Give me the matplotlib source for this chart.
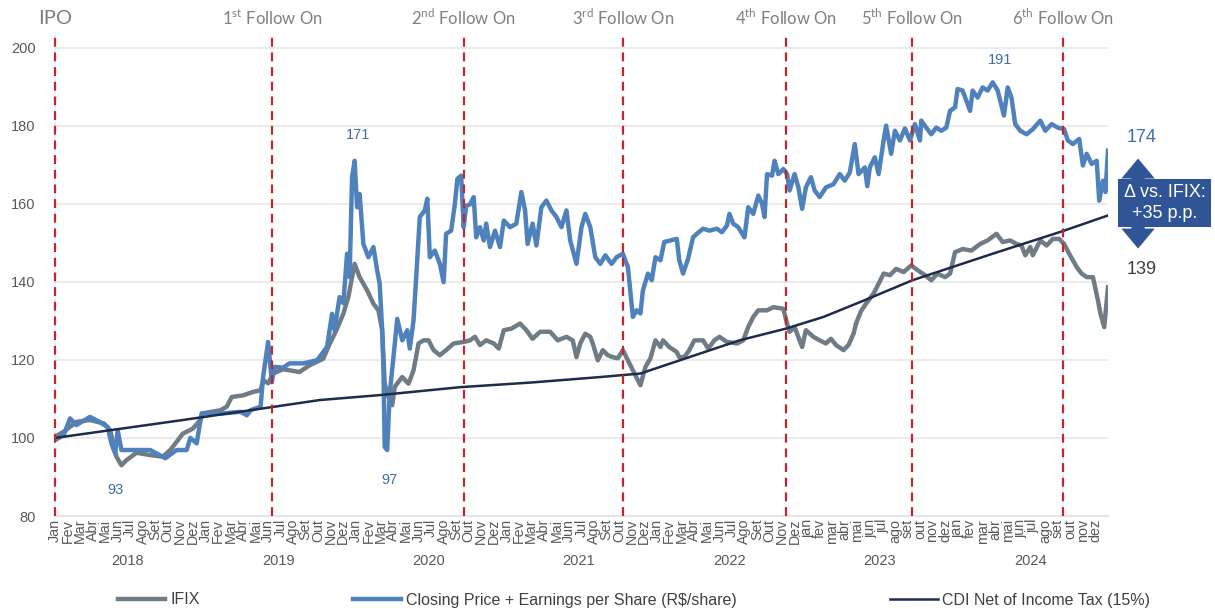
import numpy as np
import matplotlib
matplotlib.use("Agg")
import matplotlib.pyplot as plt
from matplotlib.lines import Line2D
import matplotlib.transforms as mtransforms

# months since Jan 2018 (0 = start of Jan 2018, 84 = end of Dec 2024)
price_m = [0, 0.7, 1.2, 1.7, 2.8, 3.6, 4.2, 4.5, 4.8, 5.0, 5.3, 6.2, 7.6, 8.8, 9.7, 10.5, 10.8, 11.3, 11.7,
           13.4, 14.8, 15.3, 15.6, 16.4, 16.6, 17.0, 17.3, 17.5, 18.2, 18.7, 19.8, 20.9, 21.1, 21.7, 22.1,
           22.3, 22.7, 23.0, 23.3, 23.5, 23.7, 23.9, 24.1, 24.3, 24.6, 25.0, 25.4, 25.7, 25.9, 26.1, 26.2,
           26.3, 26.5, 26.7, 27.0, 27.3, 27.7, 28.1, 28.3, 28.6, 28.8, 29.1, 29.5, 29.7, 29.9, 30.3, 30.7,
           31.0, 31.2, 31.6, 31.9, 32.1, 32.4, 32.6, 32.8, 33.1, 33.4, 33.6, 33.9, 34.2, 34.4, 34.7, 35.1,
           35.5, 35.8, 36.3, 36.8, 37.2, 37.5, 37.7, 38.1, 38.4, 38.8, 39.2, 39.6, 40.0, 40.4, 40.8, 41.1,
           41.6, 42.0, 42.3, 42.7, 43.1, 43.5, 43.9, 44.4, 44.8, 45.3, 45.7, 46.1, 46.4, 46.7, 46.9, 47.3,
           47.6, 47.9, 48.3, 48.6, 49.6, 49.8, 50.1, 50.5, 50.9, 51.2, 51.7, 52.2, 52.8, 53.2, 53.6, 53.8,
           54.1, 54.5, 55.0, 55.3, 55.7, 56.1, 56.4, 56.6, 56.8, 57.2, 57.4, 57.7, 58.1, 58.4, 58.6, 59.0,
           59.3, 59.6, 59.9, 60.3, 60.6, 61.0, 61.5, 62.1, 62.6, 63.0, 63.4, 63.8, 64.1, 64.6, 64.8, 65.0,
           65.4, 65.7, 66.1, 66.3, 66.7, 67.0, 67.4, 67.8, 68.2, 68.6, 69.0, 69.1, 69.5, 69.9, 70.3, 70.7,
           71.1, 71.4, 71.8, 72.0, 72.4, 72.7, 73.0, 73.2, 73.6, 74.0, 74.4, 74.8, 75.2, 75.7, 76.0, 76.3,
           76.6, 77.0, 77.5, 78.0, 78.6, 79.0, 79.5, 80.0, 80.5, 80.8, 81.2, 81.7, 82.0, 82.3, 82.7, 83.1,
           83.3, 83.6, 83.8, 84.0]
price_v = [99.4, 100.8, 105.0, 103.3, 105.4, 104.0, 102.8, 98.6, 96.0, 102.0, 96.9, 96.9, 96.9, 94.8, 96.9,
           96.9, 100.0, 98.6, 106.3, 106.3, 106.7, 105.8, 107.1, 108.0, 115.6, 124.6, 114.3, 118.2, 118.0,
           119.1, 119.1, 119.9, 120.7, 123.3, 131.8, 127.6, 136.1, 134.5, 147.2, 141.2, 166.8, 171.0, 159.1,
           162.5, 149.7, 146.3, 148.9, 142.9, 139.5, 127.6, 118.2, 97.7, 96.9, 111.4, 120.7, 130.5, 125.0,
           127.6, 122.9, 130.1, 140.4, 156.6, 158.3, 161.3, 146.3, 148.0, 144.6, 139.9, 152.3, 153.1, 160.0,
           166.4, 167.2, 154.0, 159.5, 159.8, 161.7, 151.4, 154.0, 150.6, 154.9, 148.9, 153.1, 148.9, 155.7,
           154.0, 154.9, 163.0, 158.3, 149.7, 154.9, 149.3, 159.1, 160.8, 158.3, 156.6, 154.0, 158.3, 150.6,
           144.6, 154.0, 157.4, 154.0, 146.3, 144.6, 146.8, 144.6, 146.3, 147.2, 143.8, 131.0, 132.7, 131.9,
           137.8, 142.1, 140.4, 146.3, 145.5, 150.2, 151.0, 145.5, 142.1, 145.9, 151.4, 152.3, 153.6, 153.1,
           153.6, 152.7, 154.4, 157.4, 154.9, 154.0, 151.4, 159.1, 157.4, 162.1, 160.0, 156.6, 167.6, 167.2,
           171.0, 167.6, 168.9, 167.6, 163.4, 167.6, 164.2, 158.7, 164.2, 166.8, 163.4, 161.7, 164.2, 165.0,
           167.6, 165.9, 168.0, 175.3, 167.6, 169.3, 164.5, 169.3, 171.9, 167.6, 176.2, 180.0, 172.8, 178.7,
           176.2, 179.3, 176.2, 180.4, 176.2, 181.3, 179.5, 177.8, 179.5, 178.7, 179.5, 183.8, 184.7, 189.4,
           189.0, 186.4, 183.8, 189.0, 187.2, 189.8, 189.0, 191.1, 189.0, 182.6, 189.8, 187.2, 180.4, 178.7,
           177.8, 179.1, 181.3, 178.7, 180.4, 179.5, 179.1, 176.2, 175.3, 176.6, 169.8, 172.8, 170.2, 171.0,
           160.8, 165.9, 163.0, 173.6]

ifix_m = [0, 0.7, 1.7, 2.8, 3.9, 4.4, 4.9, 5.3, 5.7, 6.5, 7.6, 8.6, 9.2, 9.7, 10.2, 11.0, 11.6, 11.8, 13.2,
          13.7, 14.1, 15.0, 15.8, 16.4, 16.6, 17.0, 17.4, 18.2, 19.5, 20.3, 21.4, 21.9, 22.5, 23.0, 23.4,
          23.7, 23.9, 24.3, 24.9, 25.4, 25.8, 26.1, 26.3, 26.6, 26.9, 27.1, 27.7, 28.2, 28.6, 29.0, 29.4,
          29.8, 30.2, 30.7, 31.2, 31.8, 32.6, 33.1, 33.5, 33.9, 34.4, 35.0, 35.4, 35.8, 36.4, 37.1, 37.6,
          38.1, 38.7, 39.5, 40.1, 40.8, 41.3, 41.6, 41.9, 42.3, 42.7, 42.9, 43.3, 43.7, 44.1, 44.5, 44.9,
          45.3, 45.7, 46.1, 46.7, 47.1, 47.5, 47.9, 48.3, 48.5, 49.0, 49.6, 49.8, 50.2, 50.6, 51.0, 51.7,
          52.1, 52.6, 53.0, 53.6, 54.4, 54.9, 55.3, 55.7, 56.1, 56.8, 57.3, 58.1, 58.4, 58.6, 59.0, 59.6,
          59.9, 60.5, 61.0, 61.5, 61.9, 62.3, 62.9, 63.3, 63.7, 63.9, 64.3, 64.7, 65.3, 65.7, 66.1, 66.6,
          67.1, 67.7, 68.3, 68.8, 69.4, 69.9, 70.4, 71.0, 71.4, 71.8, 72.4, 73.1, 73.8, 74.4, 75.1, 75.6,
          76.2, 76.7, 77.1, 77.4, 77.8, 78.0, 78.6, 79.1, 79.6, 80.1, 80.5, 80.9, 81.5, 81.9, 82.3, 82.8,
          83.2, 83.4, 83.7, 84.0]
ifix_v = [100.3, 101.6, 104.1, 104.6, 103.7, 102.0, 95.2, 93.0, 94.3, 96.2, 95.6, 95.2, 96.9, 99.0, 101.1,
          102.4, 104.6, 106.3, 107.1, 108.0, 110.5, 110.9, 111.8, 112.2, 114.8, 114.0, 116.5, 117.6, 116.9,
          118.6, 120.3, 124.0, 128.0, 131.8, 136.1, 141.2, 144.6, 141.2, 137.8, 134.4, 132.7, 127.6, 113.9,
          110.5, 108.4, 113.1, 115.6, 113.9, 117.3, 124.2, 125.0, 125.0, 122.5, 121.2, 122.5, 124.2, 124.6,
          125.0, 125.9, 123.8, 125.0, 124.2, 122.9, 127.6, 128.0, 129.3, 127.6, 125.4, 127.2, 127.2, 125.0,
          125.9, 125.0, 120.7, 124.2, 126.7, 125.9, 124.2, 119.9, 122.5, 121.2, 120.7, 120.4, 122.5, 119.9,
          117.3, 113.5, 118.2, 120.4, 125.0, 123.3, 125.0, 123.3, 122.0, 120.7, 120.7, 122.5, 125.0, 125.0,
          122.9, 125.0, 125.9, 124.6, 124.2, 125.0, 128.4, 131.0, 132.7, 132.7, 133.5, 133.1, 129.3, 127.2,
          128.4, 123.3, 127.6, 125.9, 125.0, 124.2, 125.4, 123.8, 122.5, 123.8, 126.7, 129.3, 132.5, 134.4,
          137.0, 139.5, 142.1, 141.7, 143.3, 142.5, 144.2, 143.0, 141.7, 140.4, 142.1, 141.2, 142.1, 147.6,
          148.4, 148.0, 149.7, 150.6, 152.3, 150.2, 150.6, 149.7, 149.3, 146.8, 148.9, 146.8, 150.6, 149.3,
          151.0, 151.0, 149.7, 147.2, 143.8, 142.1, 141.2, 141.2, 135.2, 131.8, 128.4, 138.6]

cdi_m = [0, 10, 17.3, 21.1, 26, 32.3, 38, 43.5, 46.7, 50.6, 54.6, 58.3, 61.3, 64.6, 68.4, 74.8, 80.4, 84]
cdi_v = [100, 104.5, 107.9, 109.7, 111, 113, 114.2, 115.6, 116.5, 120.7, 125, 128, 131, 135.3, 140.4,
         147.2, 153, 157]

event_m = [0, 17.3, 32.6, 45.3, 58.3, 68.4, 80.4]
event_num = ["", "1", "2", "3", "4", "5", "6"]
event_sup = ["", "st", "nd", "rd", "th", "th", "th"]

months_cap = ["Jan", "Fev", "Mar", "Abr", "Mai", "Jun", "Jul", "Ago", "Set", "Out", "Nov", "Dez"]
years = [2018, 2019, 2020, 2021, 2022, 2023, 2024]

# labelled points: (month, value, text)
point_labels = [(4.8, 86.7, "93"), (24.2, 177.7, "171"), (26.7, 89.2, "97"), (75.4, 196.9, "191")]
last_price, last_ifix = "174", "139"
delta_text = "Δ vs. IFIX:\n+35 p.p."

BLUE = "#4f81bd"
GRAY = "#6f7c86"
NAVY = "#1f2b4a"
RED = "#c0262d"
TXT = "#595959"
HEAD = "#7f7f7f"

plt.rcParams['mathtext.fontset'] = 'custom'
plt.rcParams['mathtext.rm'] = 'Lato'
sans = 'Liberation Sans'

fig = plt.figure(figsize=(12.15, 6.09), dpi=100)
ax = fig.add_axes([55 / 1215, 93 / 609, 1053 / 1215, 484 / 609])

ax.plot(ifix_m, ifix_v, color=GRAY, lw=3.2, zorder=2, solid_joinstyle='round')
ax.plot(price_m, price_v, color=BLUE, lw=3.2, zorder=3, solid_joinstyle='round')
ax.plot(cdi_m, cdi_v, color=NAVY, lw=1.8, zorder=4)
for m in event_m:
    ax.axvline(m, color=RED, lw=1.6, ls=(0, (4, 2.6)), zorder=5, clip_on=False)

ax.set_xlim(0, 84)
ax.set_ylim(80, 204)
ax.set_yticks(range(80, 201, 20))
ax.grid(axis='y', color='#ebebeb', lw=1.5, zorder=0)
ax.set_axisbelow(True)
for s in ax.spines.values():
    s.set_visible(False)
ax.axhline(80, color='#e6e6e6', lw=1.5, zorder=1, clip_on=False)

month_labels = []
for y in years:
    for name in months_cap:
        month_labels.append(name if y < 2023 else name.lower())
ax.set_xticks(np.arange(84))
ax.set_xticklabels(month_labels, rotation=90, fontsize=10.3, color=TXT, family=sans)
ax.tick_params(axis='x', length=0, pad=2)
ax.tick_params(axis='y', length=0, pad=14, labelsize=10.5, labelcolor=TXT)
for t in ax.get_yticklabels():
    t.set_family(sans)

trans = mtransforms.blended_transform_factory(ax.transData, ax.transAxes)
for i, y in enumerate(years):
    ax.text(12 * i + 5.8, -0.094, str(y), transform=trans, ha='center', va='center',
            fontsize=10.5, color=TXT, family=sans)

# event labels on top
for m, n, sup in zip(event_m, event_num, event_sup):
    if n == "":
        ax.text(m, 1.028, "IPO", transform=trans, ha='center', va='center', fontsize=14.5,
                color=HEAD, family='Lato', clip_on=False)
    else:
        ax.text(m, 1.028, n + r"$^{\mathrm{" + sup + "}}$ Follow On", transform=trans, ha='center',
                va='center', fontsize=12, color=HEAD, family='Lato', clip_on=False)

for m, v, t in point_labels:
    ax.text(m, v, t, ha='center', va='center', fontsize=10.5, color='#3f6ea8', family=sans,
            clip_on=False)

# right-hand annotation
ax.text(86.7, 176.9, last_price, ha='center', va='center', fontsize=13, color='#3f6ea8',
        family=sans, clip_on=False)
ax.text(86.7, 143.1, last_ifix, ha='center', va='center', fontsize=13, color='#404040',
        family=sans, clip_on=False)
arrow_kw = dict(arrowstyle='simple,head_length=0.9,head_width=1.5,tail_width=0.6', color='#2f5597',
                lw=0, mutation_scale=16)
ax.annotate("", xy=(86.4, 172.3), xytext=(86.4, 160), arrowprops=arrow_kw, annotation_clip=False)
ax.annotate("", xy=(86.4, 147.8), xytext=(86.4, 160), arrowprops=arrow_kw, annotation_clip=False)
ax.text(88.5, 160.2, delta_text, ha='center', va='center', fontsize=13, color='white',
        family=sans, linespacing=1.25, clip_on=False, zorder=6,
        bbox=dict(boxstyle='square,pad=0.3', fc='#2f5597', ec='none'))

handles = [Line2D([], [], color=GRAY, lw=3.2),
           Line2D([], [], color=BLUE, lw=3.2),
           Line2D([], [], color=NAVY, lw=1.8)]
labels = ["IFIX", "Closing Price + Earnings per Share (R$/share)", "CDI Net of Income Tax (15%)"]
fig.legend(handles, labels, loc='center', bbox_to_anchor=(634 / 1215, 1 - 600 / 609), ncol=3,
           frameon=False, handlelength=3.0, handletextpad=0.3, columnspacing=9.6,
           prop={'family': sans, 'size': 11.5}, labelcolor='#404040')

fig.savefig("out.png", dpi=100)
